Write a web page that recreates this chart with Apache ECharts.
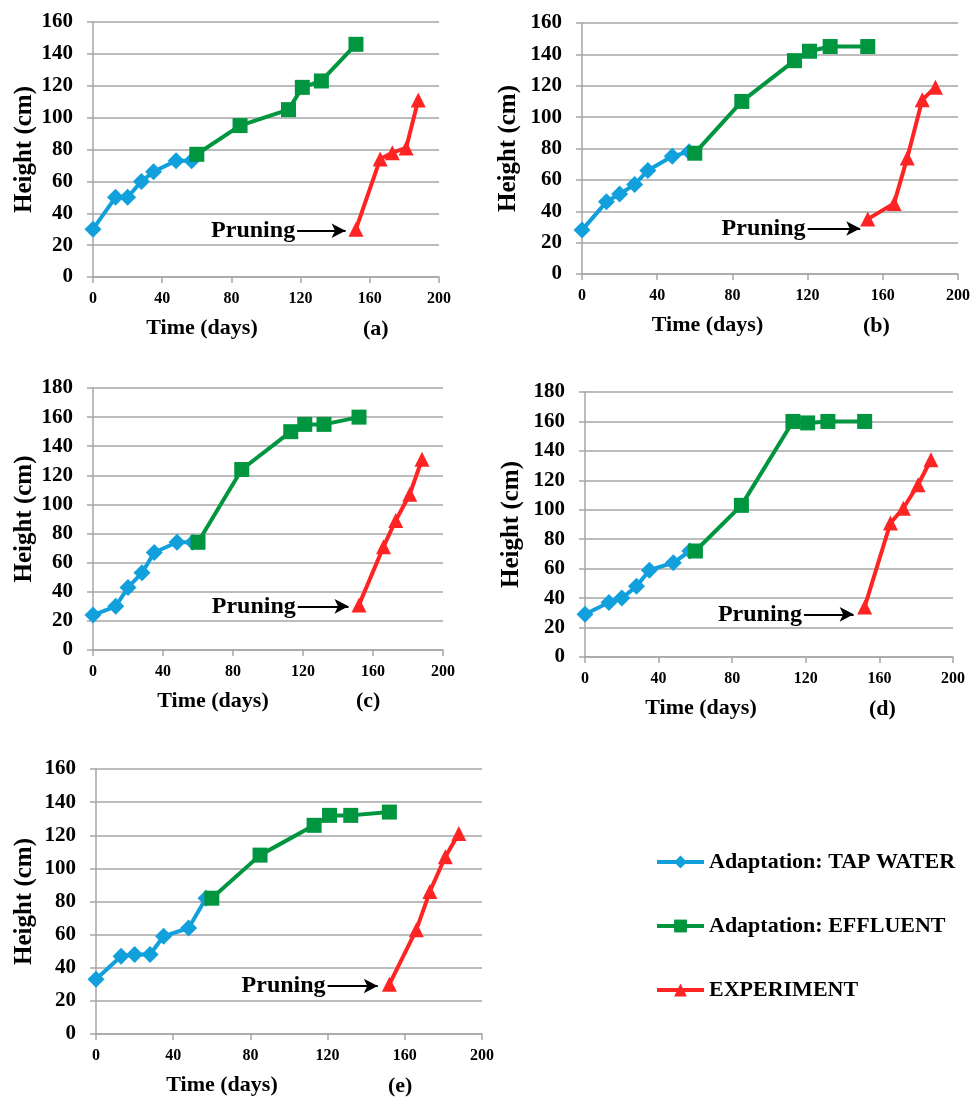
<!DOCTYPE html>
<html>
<head>
<meta charset="utf-8">
<script src="https://cdn.jsdelivr.net/npm/echarts@6/dist/echarts.min.js"></script>
<style>
  html, body { margin: 0; padding: 0; background: #fff; }
  #main { width: 973px; height: 1098px; }
</style>
</head>
<body>
<div id="main"></div>
<script>
// days of each measurement (same for every panel)
var tapDays = [0, 13, 20, 28, 35, 48, 57];
var effDays = [60, 85, 113, 121, 132, 152];
var expDays = [152, 166, 173, 181, 188];

// heights (cm)
var tapA = [30, 50, 50, 60, 66, 73, 73];
var effA = [77, 95, 105, 119, 123, 146];
var expA = [30, 74, 78, 81, 111];

var tapB = [28, 46, 51, 57, 66, 75, 78];
var effB = [77, 110, 136, 142, 145, 145];
var expB = [35, 45, 74, 111, 119];

var tapC = [24, 30, 43, 53, 67, 74, 74];
var effC = [74, 124, 150, 155, 155, 160];
var expC = [31, 71, 89, 107, 131];

var tapD = [29, 37, 40, 48, 59, 64, 72];
var effD = [72, 103, 160, 159, 160, 160];
var expD = [34, 91, 101, 117, 134];

var tapE = [33, 47, 48, 48, 59, 64, 82];
var effE = [82, 108, 126, 132, 132, 134];
var expE = [30, 63, 86, 107, 121];

var panelLabels = ['(a)', '(b)', '(c)', '(d)', '(e)'];
var yMax = [160, 160, 180, 180, 160];
// pruning arrow: from day, to day, height
var pruneFrom = [118, 120, 117, 119, 120];
var pruneTo = [146, 148, 146, 146, 146];
var pruneY = [29, 29, 30, 29, 29];

var seriesNames = ['Adaptation: TAP WATER', 'Adaptation: EFFLUENT', 'EXPERIMENT'];
var colors = ['#12a0dc', '#00953f', '#ff2424'];
var font = '"Liberation Serif", "Times New Roman", serif';

var tapAll = [tapA, tapB, tapC, tapD, tapE];
var effAll = [effA, effB, effC, effD, effE];
var expAll = [expA, expB, expC, expD, expE];

// layout of the five plot areas
var grids = [
    { left: 93, top: 22, width: 346, height: 255 },
    { left: 582, top: 23, width: 376, height: 251 },
    { left: 93, top: 388, width: 350, height: 262 },
    { left: 585, top: 392, width: 368, height: 265 },
    { left: 96, top: 769, width: 386, height: 265 }
];
var xNameShift = [128, 125, 110, 136, 134];
var yNameGap = [56, 61, 56, 61, 59];
var labelPos = [
    { left: 363, top: 318 },
    { left: 863, top: 315 },
    { left: 356, top: 690 },
    { left: 869, top: 698 },
    { left: 388, top: 1075 }
];

function pairs(xs, ys) {
    return xs.map(function (x, i) { return [x, ys[i]]; });
}

var myChart = echarts.init(document.getElementById('main'));

var xAxes = [], yAxes = [], series = [], titles = [];
var gridOpts = grids.map(function (g) {
    return { left: g.left, top: g.top, width: g.width, height: g.height, containLabel: false };
});

for (var i = 0; i < 5; i++) {
    xAxes.push({
        type: 'value', gridIndex: i, min: 0, max: 200, interval: 40,
        name: 'Time (days)', nameLocation: 'middle', nameGap: 40,
        nameTextStyle: { fontFamily: font, fontWeight: 'bold', fontSize: 22, color: '#000', padding: [0, xNameShift[i], 0, 0] },
        axisLine: { lineStyle: { color: '#a6a6a6', width: 1.5 } },
        axisTick: { show: true, length: 6, lineStyle: { color: '#a6a6a6', width: 1.5 } },
        axisLabel: { fontFamily: font, fontWeight: 'bold', fontSize: 16, color: '#000', margin: 14 },
        splitLine: { show: false }
    });
    yAxes.push({
        type: 'value', gridIndex: i, min: 0, max: yMax[i], interval: 20,
        name: 'Height (cm)', nameLocation: 'middle', nameGap: yNameGap[i],
        nameTextStyle: { fontFamily: font, fontWeight: 'bold', fontSize: 25, color: '#000' },
        axisLine: { show: true, lineStyle: { color: '#a6a6a6', width: 1.5 } },
        axisTick: { show: true, length: 6, lineStyle: { color: '#a6a6a6', width: 1.5 } },
        axisLabel: { fontFamily: font, fontWeight: 'bold', fontSize: 21, color: '#000', margin: 20 },
        splitLine: { show: true, lineStyle: { color: '#a6a6a6', width: 1.5 } }
    });
    titles.push({
        text: panelLabels[i], left: labelPos[i].left, top: labelPos[i].top, padding: 0,
        textStyle: { fontFamily: font, fontWeight: 'bold', fontSize: 22, color: '#000' }
    });

    series.push({
        name: seriesNames[0], type: 'line', xAxisIndex: i, yAxisIndex: i,
        data: pairs(tapDays, tapAll[i]),
        symbol: 'diamond', symbolSize: 17,
        lineStyle: { color: colors[0], width: 4 },
        itemStyle: { color: colors[0] }, z: 2
    });
    series.push({
        name: seriesNames[1], type: 'line', xAxisIndex: i, yAxisIndex: i,
        data: pairs(effDays, effAll[i]),
        symbol: 'rect', symbolSize: 15,
        lineStyle: { color: colors[1], width: 4 },
        itemStyle: { color: colors[1] }, z: 3
    });
    series.push({
        name: seriesNames[2], type: 'line', xAxisIndex: i, yAxisIndex: i,
        data: pairs(expDays, expAll[i]),
        symbol: 'triangle', symbolSize: 15,
        lineStyle: { color: colors[2], width: 4 },
        itemStyle: { color: colors[2] }, z: 4,
        markLine: {
            silent: true, animation: false,
            symbol: ['none', 'arrow'], symbolSize: [11, 14],
            lineStyle: { color: '#000', width: 2, type: 'solid' },
            label: {
                show: true, position: 'start', distance: 2, formatter: 'Pruning',
                fontFamily: font, fontWeight: 'bold', fontSize: 24, color: '#000'
            },
            data: [[{ coord: [pruneFrom[i], pruneY[i]] }, { coord: [pruneTo[i], pruneY[i]] }]]
        }
    });
}

var option = {
    animation: false,
    title: titles,
    grid: gridOpts,
    xAxis: xAxes,
    yAxis: yAxes,
    legend: {
        data: seriesNames,
        orient: 'vertical',
        left: 650, top: 846,
        itemWidth: 47, itemHeight: 16, itemGap: 42,
        lineStyle: { width: 4 },
        textStyle: { fontFamily: font, fontWeight: 'bold', fontSize: 22, color: '#000' }
    },
    series: series
};

option && myChart.setOption(option);
</script>
</body>
</html>
